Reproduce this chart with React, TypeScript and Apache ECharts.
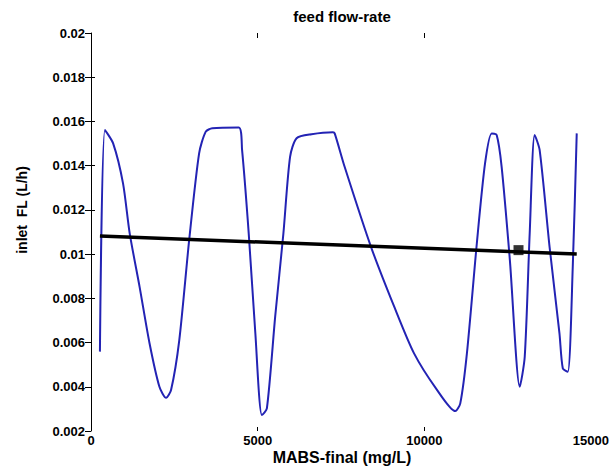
import React, { useEffect, useRef } from "react";
import * as echarts from "echarts";

const titleText = "feed flow-rate";
const xName = "MABS-final (mg/L)";
const yName = "inlet  FL (L/h)";

const xTicks = [5000, 10000];
const leftTickValues = [0.008, 0.01, 0.012, 0.014, 0.016, 0.018];

const blueX = [
  268, 417, 664, 961, 1161, 1458, 1756, 2053, 2253, 2402, 2649, 2946, 3244, 3443, 3640, 4434,
  4533, 4732, 4931, 5128, 5277, 5526, 5773, 5973, 6169, 6616, 7261, 7312, 7610, 8401, 9098,
  9693, 10386, 10931, 11080, 11279, 11577, 11824, 12023, 12172, 12321, 12568, 12865, 13014,
  13163, 13312, 13461, 13759, 14056, 14157, 14306, 14455, 14574,
];
const blueY = [
  0.00559, 0.01561, 0.01501, 0.0132, 0.01094, 0.00852, 0.00597, 0.004, 0.0035, 0.00385, 0.00611,
  0.01064, 0.01456, 0.01554, 0.01569, 0.01573, 0.01471, 0.01094, 0.00642, 0.00272, 0.00302,
  0.00717, 0.01094, 0.0144, 0.01524, 0.01542, 0.01551, 0.01546, 0.01395, 0.01033, 0.00762,
  0.00551, 0.00385, 0.0029, 0.00325, 0.00551, 0.01049, 0.01411, 0.01546, 0.01539, 0.01395,
  0.00973, 0.004, 0.00536, 0.01094, 0.01539, 0.01471, 0.01033, 0.00642, 0.00483, 0.00468,
  0.00943, 0.01546,
];

const blackX = [268, 14574];
const blackY = [0.01082, 0.01];

const markerX = [12827];
const markerY = [0.01018];

const FONT = "Liberation Sans, Arial, sans-serif";

export default function App() {
  const ref = useRef<HTMLDivElement>(null);

  useEffect(() => {
    document.body.style.margin = "0";
    if (!ref.current) return;
    const chart = echarts.init(ref.current, null, { renderer: "svg" });
    const blueData = blueX.map((x, i) => [x, blueY[i]]);
    const blackData = blackX.map((x, i) => [x, blackY[i]]);
    const markerData = markerX.map((x, i) => [x, markerY[i]]);

    chart.setOption({
      animation: false,
      backgroundColor: "#ffffff",
      grid: { left: 91, right: 17, top: 33, bottom: 37, containLabel: false },
      graphic: [
        {
          type: "text",
          x: 342,
          y: 16,
          style: {
            text: titleText,
            font: `bold 15px ${FONT}`,
            fill: "#000",
            align: "center",
            verticalAlign: "middle",
          },
        },
        {
          type: "text",
          x: 342,
          y: 457,
          style: {
            text: xName,
            font: `bold 16px ${FONT}`,
            fill: "#000",
            align: "center",
            verticalAlign: "middle",
          },
        },
        {
          type: "text",
          x: 22,
          y: 210,
          rotation: Math.PI / 2,
          style: {
            text: yName,
            font: `bold 14px ${FONT}`,
            fill: "#000",
            align: "center",
            verticalAlign: "middle",
          },
        },
      ],
      xAxis: [
        {
          type: "value",
          position: "bottom",
          min: 0,
          max: 15000,
          interval: 5000,
          axisLine: { show: false },
          axisTick: {
            show: true,
            inside: true,
            length: 4,
            customValues: xTicks,
            lineStyle: { color: "#000" },
          },
          axisLabel: {
            margin: 3,
            color: "#000",
            fontFamily: FONT,
            fontWeight: "bold",
            fontSize: 13,
            formatter: (v: number) => String(v),
            showMinLabel: true,
            showMaxLabel: true,
          },
          splitLine: { show: false },
        },
        {
          type: "value",
          position: "top",
          min: 0,
          max: 15000,
          interval: 5000,
          axisLine: { show: false },
          axisTick: {
            show: true,
            inside: true,
            length: 5,
            customValues: xTicks,
            lineStyle: { color: "#000" },
          },
          axisLabel: { show: false },
          splitLine: { show: false },
        },
      ],
      yAxis: [
        {
          type: "value",
          position: "left",
          min: 0.002,
          max: 0.02,
          interval: 0.002,
          axisLine: { show: false },
          axisTick: {
            show: true,
            inside: true,
            length: 4,
            customValues: leftTickValues,
            lineStyle: { color: "#000" },
          },
          axisLabel: {
            margin: 6,
            color: "#000",
            fontFamily: FONT,
            fontWeight: "bold",
            fontSize: 13,
            formatter: (v: number) => String(+v.toFixed(3)),
            showMinLabel: true,
            showMaxLabel: true,
          },
          splitLine: { show: false },
        },
        {
          type: "value",
          position: "right",
          min: 0.002,
          max: 0.02,
          interval: 0.002,
          axisLine: { show: true, lineStyle: { color: "#000", width: 1 } },
          axisTick: {
            show: true,
            inside: true,
            length: 6,
            lineStyle: { color: "#000" },
          },
          axisLabel: { show: false },
          splitLine: { show: false },
        },
      ],
      series: [
        {
          type: "line",
          name: "blue",
          xAxisIndex: 0,
          yAxisIndex: 0,
          data: blueData,
          showSymbol: false,
          symbol: "none",
          smooth: 0.25,
          lineStyle: { color: "#2323b4", width: 2 },
          z: 2,
        },
        {
          type: "line",
          name: "black",
          xAxisIndex: 0,
          yAxisIndex: 0,
          data: blackData,
          showSymbol: false,
          symbol: "none",
          lineStyle: { color: "#000", width: 3.5 },
          z: 3,
        },
        {
          type: "scatter",
          name: "marker",
          xAxisIndex: 0,
          yAxisIndex: 0,
          data: markerData,
          symbol: "rect",
          symbolSize: 10,
          itemStyle: { color: "#000" },
          z: 4,
        },
      ],
    });

    return () => {
      chart.dispose();
    };
  }, []);

  return <div ref={ref} style={{ width: 612, height: 468 }} />;
}
